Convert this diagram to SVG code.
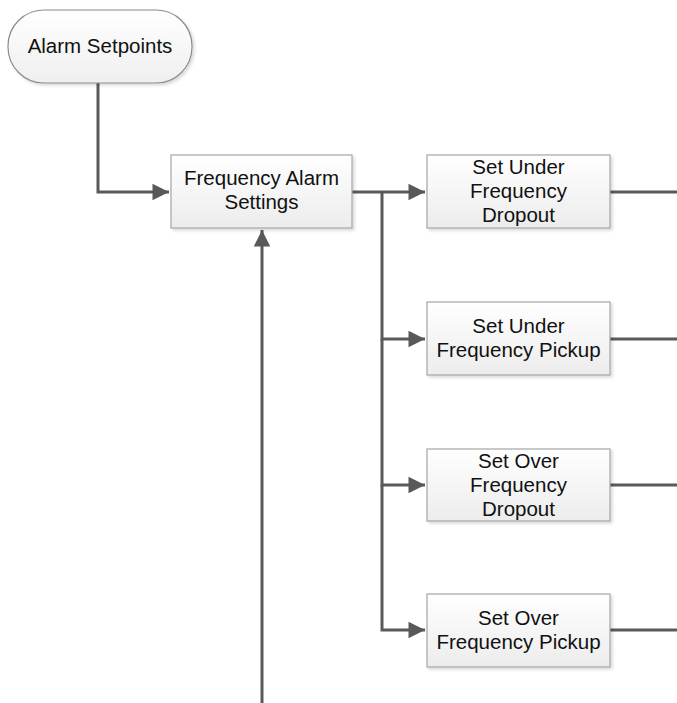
<svg xmlns="http://www.w3.org/2000/svg" width="677" height="703" viewBox="0 0 677 703">
<style>
.box{fill:url(#g);stroke:#a6a6a6;stroke-width:1.2}
.pill{fill:url(#g2);stroke:#8c8c8c;stroke-width:1.2}
.t{font-family:"Liberation Sans",Arial,sans-serif;font-size:20.5px;fill:#111;text-anchor:middle}
.c{fill:none;stroke:#595959;stroke-width:3}
</style>
<defs>
<linearGradient id="g" x1="0" y1="0" x2="0" y2="1"><stop offset="0" stop-color="#ffffff"/><stop offset="1" stop-color="#ececec"/></linearGradient>
<linearGradient id="g2" x1="0" y1="0" x2="0" y2="1"><stop offset="0" stop-color="#ffffff"/><stop offset="1" stop-color="#efefef"/></linearGradient>
<filter id="sh" x="-10%" y="-10%" width="130%" height="130%"><feDropShadow dx="2" dy="2" stdDeviation="1.5" flood-color="#000" flood-opacity="0.15"/></filter>
<marker id="ar" viewBox="0 0 10 10" refX="10" refY="5" markerWidth="6.5" markerHeight="5.5" markerUnits="strokeWidth" orient="auto"><path d="M0,0 L10,5 L0,10 z" fill="#595959"/></marker>
</defs>
<g id="connectors">
<path class="c" d="M98,83 V192 H169" marker-end="url(#ar)"/>
<path class="c" d="M352,192 H425" marker-end="url(#ar)"/>
<path class="c" d="M382,192 V339 H425" marker-end="url(#ar)"/>
<path class="c" d="M382,339 V485 H425" marker-end="url(#ar)"/>
<path class="c" d="M382,485 V630 H425" marker-end="url(#ar)"/>
<path class="c" d="M610,192 H677"/>
<path class="c" d="M610,339 H677"/>
<path class="c" d="M610,485 H677"/>
<path class="c" d="M610,630 H677"/>
<path class="c" d="M262,703 V230" marker-end="url(#ar)"/>
</g>
<g id="alarm-setpoints">
<rect class="pill" x="8" y="10" width="184" height="73" rx="36" ry="36" filter="url(#sh)"/>
<text class="t" x="100" y="53">Alarm Setpoints</text>
</g>
<g id="frequency-alarm-settings">
<rect class="box" x="171" y="155" width="181" height="73" filter="url(#sh)"/>
<text class="t" x="261.5" y="185">Frequency Alarm</text>
<text class="t" x="261.5" y="209">Settings</text>
</g>
<g id="under-dropout">
<rect class="box" x="427" y="155" width="183" height="73" filter="url(#sh)"/>
<text class="t" x="518.5" y="174">Set Under</text>
<text class="t" x="518.5" y="198">Frequency</text>
<text class="t" x="518.5" y="222">Dropout</text>
</g>
<g id="under-pickup">
<rect class="box" x="427" y="302" width="183" height="73" filter="url(#sh)"/>
<text class="t" x="518.5" y="333">Set Under</text>
<text class="t" x="518.5" y="357">Frequency Pickup</text>
</g>
<g id="over-dropout">
<rect class="box" x="427" y="449" width="183" height="72" filter="url(#sh)"/>
<text class="t" x="518.5" y="468">Set Over</text>
<text class="t" x="518.5" y="492">Frequency</text>
<text class="t" x="518.5" y="516">Dropout</text>
</g>
<g id="over-pickup">
<rect class="box" x="427" y="594" width="183" height="73" filter="url(#sh)"/>
<text class="t" x="518.5" y="625">Set Over</text>
<text class="t" x="518.5" y="649">Frequency Pickup</text>
</g>
</svg>
